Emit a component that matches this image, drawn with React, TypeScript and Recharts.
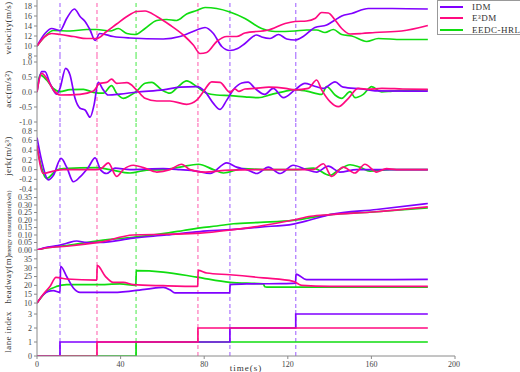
import { LineChart, Line, XAxis, YAxis, ReferenceLine } from 'recharts';

// [time (s), value] samples
const velIDM = [[0,10],[3.8,12.5],[7,13.5],[11,13.1],[14.2,15.5],[17.9,17.4],[20.6,15.9],[23,14.9],[25.4,13.2],[27.8,11.1],[30,12.5],[36.5,11.9],[44.5,11.6],[60.4,11.4],[68.4,11.9],[76.4,13.2],[80.4,13.7],[84.4,12.5],[88.4,9.9],[92.3,9.1],[96,9.5],[99.5,10.5],[105,12.2],[107.5,11.8],[111.5,11.5],[115.5,12.3],[119.5,11.4],[123.4,11.2],[127.4,11.9],[133,13.7],[138.6,14.2],[142.6,15.2],[145.8,16],[150.6,16.5],[158.5,17.5],[170,17.5],[187,17.4]];
const velE3DM = [[0,10],[3.8,11.9],[7,12.5],[11,12.3],[17.4,11.9],[23.8,11.5],[28.5,11.5],[33.3,12.9],[38.1,14.4],[43,15.9],[47.7,16.9],[51.7,17],[57.3,15.9],[63.6,14.2],[70,12.2],[74.8,10.2],[78,8.5],[81.2,8.7],[86,10.9],[90.8,11.9],[95.5,11.9],[99.5,12.6],[110.7,13.2],[118.7,14.5],[123.4,14.9],[129,15],[133,15.5],[136.2,16.7],[139.4,16.6],[142.6,15.2],[145.8,13.5],[149.8,12.4],[155.4,12.5],[161.7,12.7],[174.5,13],[187,14.1]];
const velEEDC = [[0,10],[3.8,11.9],[7.8,13.1],[15.8,13],[23.8,13.3],[28.5,13.3],[35,13],[38.9,13.5],[43,12.5],[46.9,12.3],[51.7,13.5],[57.3,15.1],[62,15.3],[66.8,15.1],[71.6,16.4],[76.4,17.1],[80.4,17.7],[86,17.5],[92.3,16.8],[99.5,15.5],[107.5,13.5],[113.9,12.9],[123.4,13],[129,13.2],[133.8,13.2],[137.8,12.7],[141.8,13.3],[145.8,12.3],[150.6,12],[157.7,10.9],[163.3,11.5],[174.5,11.3],[187,11.3]];

const accIDM = [[0,0],[2.2,0.68],[3.8,0.68],[6.2,0.29],[9.4,-0.07],[11,0.12],[13.7,0.79],[15.8,0.57],[18.2,-0.21],[20.6,-0.54],[23,-0.6],[25.4,-0.84],[27.3,-0.43],[29.3,0.32],[31.7,0.07],[34.1,-0.1],[39.7,-0.07],[47.7,0],[60.4,0.07],[68.4,0.16],[76.4,0.18],[80.4,0.01],[84.4,-0.38],[87.6,-0.58],[90.8,-0.27],[93.9,0.07],[98,0.3],[101,0.33],[104.3,0.12],[109,-0.08],[113,0.12],[117.9,-0.19],[123.4,0.07],[128.2,0.29],[132.2,0.21],[137,0.12],[142.6,0.34],[146.5,0.16],[155.4,0.1],[161.7,0.04],[187,0.03]];
const accE3DM = [[0,0],[2.2,0.62],[4.6,0.46],[7.8,0.07],[11,-0.1],[20.6,-0.08],[27,0.03],[30.1,0.29],[33.3,0.32],[35.7,0.43],[38.1,0.29],[43,0.31],[47.7,0.07],[51.7,-0.21],[57.3,-0.3],[63.6,-0.3],[71.6,-0.41],[76.4,-0.27],[79.6,0.01],[83.6,0.34],[87.6,0.32],[92.3,-0.01],[94.7,0.1],[96.5,0.02],[99.5,0.1],[104.3,0.12],[111,0.16],[119,0.12],[123.4,0.07],[129.8,0.12],[133.8,0.4],[136.2,0.07],[140.2,-0.32],[144.2,-0.49],[149,-0.21],[153.7,0.12],[158.5,0.09],[165,0.12],[175,0.1],[187,0.09]];
const accEEDC = [[0,0],[1.4,0.57],[4.6,0.4],[7.8,0.12],[11,0.01],[15.8,0.08],[22.2,0.09],[27,-0.01],[31.7,-0.04],[35.7,0.21],[38.1,-0.04],[41.3,-0.21],[44.5,-0.12],[47.7,0.03],[51.7,0.29],[54.9,0.32],[59.7,0.07],[63.6,-0.04],[67.6,0.18],[71.6,0.37],[76.4,0.18],[81.2,-0.04],[86,-0.1],[92.3,-0.12],[99.5,-0.16],[105.9,-0.19],[112.3,-0.08],[119,0.03],[123.4,0.08],[129,0.03],[136.2,-0.08],[138.6,0.18],[142.6,-0.1],[145.8,-0.21],[149.8,0.01],[152.2,-0.19],[156.1,-0.08],[160.1,0.18],[164.9,0],[170,0.03],[187,0.07]];

const jerkIDM = [[0,0.66],[2.2,0.19],[5.4,-0.21],[7.8,-0.12],[11.5,0.23],[14.2,0.05],[17.4,-0.25],[20.6,-0.15],[24.6,0.05],[27.8,0.24],[30.5,-0.01],[33.3,-0.08],[37.3,0.03],[44.5,0],[60.4,0.02],[68.4,0],[76.4,-0.03],[82.8,-0.08],[90.8,0.14],[95.5,0.05],[100.3,0],[105.1,-0.08],[110.7,0.05],[116.3,-0.08],[122.6,0.09],[129,0],[133.8,-0.05],[139.4,0.07],[144.9,-0.05],[152.9,0],[187,0]];
const jerkE3DM = [[0,0.5],[3,-0.08],[7.8,-0.03],[12.6,0],[28.5,0],[31,0.03],[34.1,0.14],[38.1,-0.14],[41.3,0],[46.1,0.09],[50.9,0.04],[57.3,-0.05],[63.6,0],[69.2,0.11],[73.2,0],[79.6,-0.05],[92.3,-0.01],[110,0],[132.2,0],[137,0.12],[141,-0.14],[146.5,0.05],[152.1,-0.07],[156.9,0.11],[162.5,-0.05],[167.2,0.02],[172,0],[187,0]];
const jerkEEDC = [[0,0.45],[4.6,-0.18],[9.4,-0.01],[12.6,0.02],[28.5,0.04],[34.9,0],[44.5,-0.07],[52.5,-0.01],[60.4,0],[68.4,0.05],[77.2,0.11],[84.4,0],[89.2,-0.07],[98.7,0.02],[108.3,0],[124.2,0],[132.2,0.03],[140.2,-0.12],[144.2,-0.01],[149.8,0.1],[154.5,0.05],[159.3,-0.03],[168.8,0],[187,0]];

const energyIDM = [[0,0],[5,0.02],[10,0.03],[14.2,0.045],[19,0.06],[23.8,0.05],[30,0.05],[46,0.079],[62,0.1],[78,0.123],[94,0.137],[106.7,0.153],[122.6,0.173],[130.6,0.2],[140.2,0.236],[162.5,0.27],[187,0.31]];
const energyE3DM = [[0,0],[5,0.015],[14.2,0.025],[30,0.052],[46,0.1],[62,0.105],[78,0.112],[94,0.136],[106.7,0.16],[122.6,0.2],[131,0.225],[140.2,0.236],[162.5,0.255],[187,0.287]];
const energyEEDC = [[0,0],[5,0.015],[14.2,0.03],[30,0.063],[46,0.085],[62,0.112],[70,0.13],[78,0.148],[86,0.16],[94,0.175],[106.7,0.184],[122.6,0.197],[140.2,0.236],[162.5,0.255],[187,0.28]];

const headwayIDM = [[0,10],[3,14.7],[5.4,16.6],[7.8,17],[11,16],[11.3,30.8],[14.2,25],[17.4,18.5],[20.6,16],[36.5,16],[52.5,17.9],[60.4,18.9],[63.6,17.5],[66,15.7],[92.2,15.7],[92.4,20.4],[100.3,20.8],[116.3,21],[123.7,21.3],[123.9,26.4],[129,23.2],[140,23.2],[187,23.4]];
const headwayE3DM = [[0,10],[3,15],[6.2,19.4],[9.1,24.5],[14.2,23.6],[28.6,23],[28.8,31.3],[32.7,25.1],[36.5,21.7],[41.3,21.7],[46.1,20.4],[60.4,19.8],[76.9,19.4],[77.1,28.5],[81.2,27],[92.3,26],[108.3,24.2],[122.6,22.3],[126.6,20],[140,19.4],[187,19.4]];
const headwayEEDC = [[0,10],[4.6,16.6],[9.4,19.4],[14.2,20.4],[28.5,20.4],[39.7,20.8],[47.3,20],[47.5,28.3],[60.4,27.5],[76.4,24.7],[92.3,21.7],[108.3,20.8],[109,19.2],[110,19],[187,19]];

const laneIDM = [[0,0],[11,1],[92.3,2],[123.8,3],[187,3]];
const laneE3DM = [[0,0],[28.7,1],[77,2],[187,2]];
const laneEEDC = [[0,0],[47.4,1],[187,1]];

const timeTicks = [0, 40, 80, 120, 160, 200];

const PURPLE = '#8000ff';
const PINK = '#ff0a80';
const GREEN = '#10dd10';
const methods = [
  { name: 'IDM', color: PURPLE, dash: '#b380ff' },
  { name: 'E³DM', color: PINK, dash: '#ff80bf' },
  { name: 'EEDC-HRL', color: GREEN, dash: '#70ee70' },
];

const FONT = '"Liberation Serif", "DejaVu Serif", serif';
const AXIS = '#8a8a8a';

const pts = (a: number[][]) => a.map(([t, v]) => ({ t, v }));

// lane change instants -> dashed vertical markers
const changes: { t: number; color: string }[] = [];
[laneIDM, laneE3DM, laneEEDC].forEach((lane, i) => {
  for (let k = 1; k < lane.length; k++) {
    if (lane[k][1] !== lane[k - 1][1]) changes.push({ t: lane[k][0], color: methods[i].dash });
  }
});

const panels = [
  { title: 'velocity(m/s)', top: 0, bottom: 56, domain: [8, 19.2], ticks: [8, 10, 12, 14, 16, 18], fmt: (v: number) => String(v), data: [velIDM, velE3DM, velEEDC] },
  { title: 'acc(m/s²)', top: 56, bottom: 122, domain: [-1, 1.2], ticks: [-1, -0.5, 0, 0.5, 1], fmt: (v: number) => v.toFixed(1), data: [accIDM, accE3DM, accEEDC] },
  { title: 'jerk(m/s³)', top: 122, bottom: 190, domain: [-0.42, 0.98], ticks: [-0.4, -0.2, 0, 0.2, 0.4, 0.6, 0.8], fmt: (v: number) => v.toFixed(1), data: [jerkIDM, jerkE3DM, jerkEEDC] },
  { title: 'energy consumption(kwh)', top: 190, bottom: 250, domain: [0, 0.4], ticks: [0, 0.05, 0.1, 0.15, 0.2, 0.25, 0.3, 0.35], fmt: (v: number) => v.toFixed(2), data: [energyIDM, energyE3DM, energyEEDC], titleSize: 6.2, titleShift: 3 },
  { title: 'headway(m)', top: 250, bottom: 308, domain: [7.2, 40], ticks: [10, 15, 20, 25, 30, 35], fmt: (v: number) => String(v), data: [headwayIDM, headwayE3DM, headwayEEDC] },
  { title: 'lane index', top: 308, bottom: 356, domain: [0, 3.43], ticks: [0, 1, 2, 3], fmt: (v: number) => String(v), data: [laneIDM, laneE3DM, laneEEDC], step: true },
];

// draw order: green, purple, pink on top
const order = [2, 0, 1];

export default function App() {
  return (
    <div style={{ position: 'fixed', left: 0, top: 0, width: 520, height: 372, background: '#fff', fontFamily: FONT, overflow: 'hidden' }}>
      <style>{'.recharts-surface{overflow:visible}'}</style>
      {panels.map((p, pi) => {
        const last = pi === panels.length - 1;
        const xh = last ? 16 : 0;
        return (
          <div key={p.title} style={{ position: 'absolute', left: 0, top: p.top }}>
            <LineChart width={460} height={p.bottom - p.top + xh} margin={{ top: 0, right: 5, bottom: 0, left: 0 }}>
              <XAxis
                type="number"
                dataKey="t"
                domain={[0, 200]}
                ticks={timeTicks}
                allowDataOverflow
                height={xh}
                mirror={!last}
                stroke={AXIS}
                tickSize={3}
                tickMargin={2}
                tick={{ fill: '#444', fontSize: 8, fontFamily: FONT }}
                tickFormatter={last ? (v) => String(v) : () => ''}
              />
              <YAxis
                type="number"
                domain={p.domain}
                ticks={p.ticks}
                allowDataOverflow
                width={37}
                stroke={AXIS}
                tickSize={3}
                tickMargin={2}
                interval={0}
                tick={{ fill: '#444', fontSize: 8, fontFamily: FONT }}
                tickFormatter={p.fmt}
              />
              {changes.map((c, i) => (
                <ReferenceLine key={i} x={c.t} stroke={c.color} strokeWidth={1.3} strokeDasharray="4 3" />
              ))}
              {order.map((mi) => (
                <Line
                  key={mi}
                  data={pts(p.data[mi])}
                  dataKey="v"
                  type={p.step ? 'stepAfter' : 'monotone'}
                  stroke={methods[mi].color}
                  strokeWidth={1.7}
                  dot={false}
                  isAnimationActive={false}
                />
              ))}
            </LineChart>
            <div
              style={{
                position: 'absolute',
                left: 8,
                top: (p.bottom - p.top) / 2 + (p.titleShift ?? 0),
                transform: 'translate(-50%, -50%) rotate(-90deg)',
                whiteSpace: 'nowrap',
                fontSize: p.titleSize ?? 9,
                letterSpacing: p.titleSize ? 0 : 0.4,
                color: '#333',
              }}
            >
              {p.title}
            </div>
          </div>
        );
      })}
      <div style={{ position: 'absolute', left: 246, top: 368, transform: 'translate(-50%, -50%)', fontSize: 9, color: '#333', letterSpacing: 1 }}>
        time(s)
      </div>
      <div style={{ position: 'absolute', left: 437, top: 0, width: 100, height: 33, border: '1px solid #999', background: '#fff' }}>
        {methods.map((m, i) => (
          <div key={m.name} style={{ position: 'absolute', left: 2, top: 1 + i * 11.3, height: 10, display: 'flex', alignItems: 'center' }}>
            <div style={{ width: 23, height: 2, background: m.color }} />
            <span style={{ marginLeft: 9, fontSize: 9, color: '#333', letterSpacing: 0.5 }}>{m.name}</span>
          </div>
        ))}
      </div>
    </div>
  );
}
